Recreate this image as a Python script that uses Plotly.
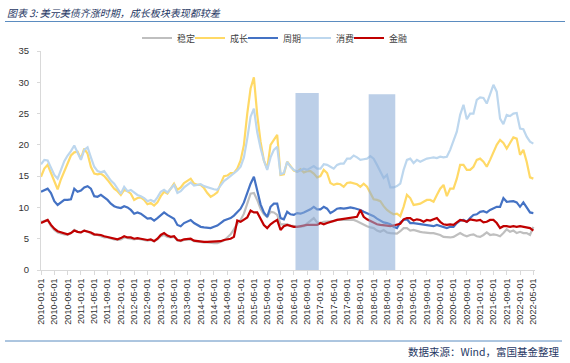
import plotly.graph_objects as go
import pandas as pd

# ---------------- data ----------------
DATES = [d.strftime("%Y-%m-%d") for d in pd.date_range("2010-01-01", "2022-05-01", freq="MS")]
TICK_LABELS = DATES[::4]
Y_TICKS = [0, 5, 10, 15, 20, 25, 30, 35]

STABLE = [7.7,7.9,8.0,7.0,6.4,6.0,5.8,5.7,5.6,5.9, 6.4,6.1,6.0,6.3,6.1,5.8,5.6,5.6,5.4,5.2,
          5.2,5.0,4.9,4.8,4.9,5.2,5.1,5.1,4.9,5.0, 4.9,4.8,4.7,4.8,4.6,4.9,5.4,5.6,5.3,5.2,
          5.3,4.7,4.6,4.8,4.8,4.9,4.6,4.5,
          4.5,4.4,4.4,4.3,4.3,4.3,4.5,4.7,5.2,5.7, 6.5,7.4,8.0,9.0,10.6,12.2,12.3,11.2,9.8,8.9,
          8.5,9.3,9.2,8.8,7.3,7.3,7.3,7.1,7.0,7.0, 6.9,7.0,7.4,7.8,8.3,7.6,7.5,7.7,7.7,7.7,
          7.8,8.0,8.0,8.0,8.0,8.0,8.0,7.8,7.5,7.2, 7.0,6.8,6.7,6.3,6.1,6.4,6.0,5.9,5.9,5.8,
          6.2,6.7,6.7,6.3,6.4,6.2,6.1,6.0,5.9,5.9, 5.9,5.8,5.6,5.3,5.2,5.2,5.3,5.6,5.9,5.6,
          5.4,5.6,5.7,5.4,5.3,5.6,6.0,5.6,5.7,5.6, 5.4,5.9,6.5,6.1,6.3,5.9,6.1,5.9,5.9,5.6,
          6.9]

GROWTH = [14.9,16.2,16.8,15.5,14.0,12.9,14.5,15.8,17.0,18.3, 18.8,18.9,17.8,19.4,18.6,16.5,15.4,15.3,15.4,15.0,
          14.4,13.6,13.0,12.6,12.0,12.8,12.6,12.2,11.2,11.5, 11.6,11.2,10.5,10.7,10.3,10.8,11.8,12.5,12.2,13.0,
          13.8,12.8,13.2,13.9,14.2,14.6,13.8,13.6,
          13.6,13.1,12.3,11.7,12.0,12.4,13.8,15.0,15.1,15.5, 15.5,16.2,17.5,20.0,25.0,29.0,30.8,24.8,20.5,17.5,
          16.2,20.0,20.8,21.6,15.2,15.3,17.3,16.5,15.9,15.7, 16.1,15.6,15.8,15.8,15.4,14.8,15.0,16.0,15.5,13.9,
          13.6,13.8,13.7,13.3,13.9,14.0,13.9,13.7,13.3,13.8, 13.3,12.2,11.3,11.2,11.0,10.2,9.6,9.2,8.9,9.0,
          8.6,10.1,12.0,11.5,10.4,10.5,10.6,10.9,11.2,11.2, 10.9,12.0,13.0,13.6,11.8,13.0,13.0,14.6,16.8,16.8,
          16.0,16.0,16.5,17.6,17.8,17.3,16.5,17.6,18.9,20.0, 20.8,20.3,19.4,20.2,21.2,21.0,18.4,19.2,17.3,14.8,
          14.6]

CYCLE = [12.5,12.8,13.0,12.3,11.0,10.4,10.8,11.2,11.2,11.3, 13.0,12.5,12.7,13.2,13.4,13.0,11.8,11.7,12.0,11.6,
         11.2,10.6,10.2,10.0,9.9,10.2,10.0,9.6,9.0,9.2, 9.0,8.6,8.2,8.3,7.9,8.3,8.8,9.2,8.8,8.5,
         8.2,7.2,7.0,7.5,7.8,8.0,7.5,7.2,
         6.9,6.8,6.7,6.7,6.9,7.1,7.5,7.9,8.1,8.3, 8.7,9.2,9.8,10.8,12.3,13.8,14.9,12.8,10.5,9.2,
         8.5,10.1,10.6,10.6,8.3,8.1,9.3,8.9,8.8,9.1, 9.0,9.2,9.4,9.7,10.1,9.7,9.7,10.1,9.8,9.1,
         9.4,9.8,9.9,9.8,9.9,10.0,9.9,9.8,9.6,9.3, 9.1,8.9,8.6,8.2,7.9,7.6,7.5,7.3,6.9,6.7,
         7.6,8.0,8.1,7.5,7.5,7.4,7.3,7.2,7.2,7.1, 7.0,7.2,7.0,6.9,6.7,6.9,6.9,7.5,7.9,8.0,
         7.7,8.3,8.8,8.9,9.3,9.4,9.2,9.6,9.9,10.1, 10.1,11.5,10.9,10.9,11.0,10.8,10.1,10.8,10.1,9.2,
         9.1]

CONSUMER = [16.9,17.6,17.5,16.3,15.2,14.6,15.9,17.4,18.3,19.0, 19.9,18.6,17.6,19.2,19.6,18.0,16.5,15.8,15.6,15.8,
            15.0,14.3,13.8,12.9,12.2,13.3,12.6,12.8,12.4,12.0, 11.8,11.5,11.0,11.2,10.9,11.6,12.5,12.8,12.4,13.0,
            13.6,12.3,12.6,13.2,13.6,14.0,13.5,13.6,
            13.7,13.4,13.2,13.0,12.9,12.8,13.5,14.2,14.6,15.0, 15.4,15.9,16.5,18.0,21.0,24.5,25.8,22.0,19.5,17.5,
            16.0,18.0,19.2,19.7,15.3,15.5,17.3,16.5,16.0,15.7, 15.9,16.2,16.0,16.3,16.6,16.2,16.2,16.9,16.8,16.5,
            16.2,16.8,17.0,17.0,17.8,17.8,18.3,18.0,17.6,17.7, 17.8,18.2,17.8,16.8,15.7,14.7,15.2,13.2,13.2,13.4,
            13.8,16.0,17.6,17.8,17.1,17.6,17.3,17.6,17.8,17.9, 18.0,17.9,18.1,18.0,18.1,19.2,20.5,22.1,24.8,26.4,
            24.1,25.0,25.0,27.2,27.6,27.5,26.6,28.2,29.6,28.5, 24.2,23.3,24.8,24.6,25.0,25.1,22.6,22.5,21.3,20.5,
            20.2]

FINANCE = [7.5,7.7,8.0,7.2,6.6,6.2,6.0,5.8,5.7,5.9, 6.3,6.1,6.0,6.3,6.2,6.0,5.7,5.7,5.6,5.4,
           5.3,5.1,5.0,4.9,5.1,5.4,5.2,5.2,5.0,5.1, 5.0,4.9,4.8,4.9,4.6,5.0,5.6,5.9,5.5,5.3,
           5.4,4.8,4.7,4.9,4.9,5.0,4.7,4.6,
           4.5,4.5,4.5,4.5,4.5,4.5,4.6,4.8,4.9,5.0, 5.3,7.9,7.7,8.0,8.4,9.5,9.2,9.2,8.2,7.2,
           6.7,7.3,7.7,8.0,6.4,7.0,7.2,7.0,6.9,6.9, 7.0,7.2,7.2,7.2,7.2,7.2,7.5,7.3,7.5,7.7,
           7.8,8.0,8.1,8.2,8.3,8.3,8.4,8.5,9.6,8.5, 8.1,7.8,7.5,7.3,7.2,7.2,7.1,7.0,7.1,7.2,
           7.4,8.1,8.3,8.3,7.9,8.1,8.0,7.7,8.0,7.9, 8.1,8.3,7.7,7.3,7.2,7.3,7.2,7.6,8.0,7.9,
           7.7,8.1,8.0,7.9,8.0,7.6,7.7,8.0,8.0,7.5, 6.7,7.0,7.0,6.9,7.0,6.9,7.0,6.9,6.8,6.7,
           6.3]

SERIES_NAMES = ["稳定", "成长", "周期", "消费", "金融"]
SERIES_VALUES = [STABLE, GROWTH, CYCLE, CONSUMER, FINANCE]
SERIES_COLORS = ["#bfbfbf", "#ffd966", "#4472c4", "#bdd7ee", "#c00000"]

# periods of simultaneous USD / UST rise (shaded), with bar height
SHADE_PERIODS = [("2016-06-01", "2016-12-01", 28.3), ("2018-04-01", "2018-11-01", 28.1)]

TITLE = "图表 3: 美元美债齐涨时期，成长板块表现都较差"
SOURCE = "数据来源：Wind，富国基金整理"

# ---------------- figure ----------------
W, H = 570, 363
ML, MR, MT, MB = 41, 35, 51, 93
PW, PH = W - ML - MR, H - MT - MB
LEGEND_LEFT, LEGEND_STEP = 137, 53   # px: left edge of first legend entry, entry pitch


def px_x(px):
    return (px - ML) / PW


def px_y(py):
    return (H - MB - py) / PH


fig = go.Figure()
legend_layouts = {}
for k, (name, vals, col) in enumerate(zip(SERIES_NAMES, SERIES_VALUES, SERIES_COLORS)):
    lg = "legend" if k == 0 else f"legend{k + 1}"
    fig.add_trace(go.Scatter(x=DATES, y=vals, name=name, mode="lines", legend=lg,
                             line=dict(color=col, width=2.2)))
    legend_layouts[lg] = dict(
        orientation="h", x=px_x(LEGEND_LEFT + k * LEGEND_STEP), xanchor="left",
        y=px_y(38), yanchor="middle",
        font=dict(family="Noto Sans CJK SC", size=9, color="#404040"),
        bgcolor="rgba(0,0,0,0)", itemwidth=30)

shapes = []
for start, end, top in SHADE_PERIODS:
    i0, i1 = DATES.index(start), DATES.index(end)
    shapes.append(dict(type="rect", xref="x", yref="y", x0=i0 - 0.5, x1=i1 + 0.5,
                       y0=-1.1, y1=top, fillcolor="rgba(140,172,215,0.58)",
                       line=dict(width=0), layer="above"))
# title underline and footer rule
shapes.append(dict(type="line", xref="paper", yref="paper", x0=px_x(5), x1=px_x(565),
                   y0=px_y(21.5), y1=px_y(21.5), line=dict(color="#5b8cc0", width=1)))
shapes.append(dict(type="line", xref="paper", yref="paper", x0=px_x(5), x1=px_x(562),
                   y0=px_y(341), y1=px_y(341), line=dict(color="#5b8cc0", width=1)))

fig.update_layout(
    width=W, height=H,
    margin=dict(l=ML, r=MR, t=MT, b=MB, pad=0, autoexpand=False),
    paper_bgcolor="white", plot_bgcolor="white",
    shapes=shapes,
    title=dict(text=TITLE, x=7 / W, xref="container", xanchor="left",
               y=1 - 13 / H, yref="container", yanchor="middle",
               font=dict(family="Noto Sans CJK SC", size=10, color="#1f3864", style="italic")),
    annotations=[dict(text=SOURCE, xref="paper", yref="paper", x=px_x(562), y=px_y(351),
                      xanchor="right", yanchor="middle", showarrow=False,
                      font=dict(family="Noto Sans CJK SC", size=10.5, color="#1f3864"))],
    showlegend=True,
    **legend_layouts,
)

fig.update_xaxes(type="category", range=[0, 148.5], tickmode="array",
                 tickvals=TICK_LABELS, ticktext=TICK_LABELS, tickangle=-90,
                 tickfont=dict(family="Liberation Sans", size=9, color="#333333"),
                 showline=True, linecolor="#d9d9d9", linewidth=1,
                 ticks="outside", ticklen=4, tickcolor="#d9d9d9",
                 showgrid=False, zeroline=False, automargin=False)
fig.update_yaxes(range=[0, 35], tickmode="array", tickvals=Y_TICKS,
                 tickfont=dict(family="Liberation Sans", size=9.5, color="#333333"),
                 showline=True, linecolor="#d9d9d9", linewidth=1,
                 ticks="outside", ticklen=3, tickcolor="#d9d9d9", ticklabelstandoff=6,
                 showgrid=False, zeroline=False, automargin=False)

# the page's default body margin would shift the figure by 8 px; remove it
fig.write_html("out.html", config={"displayModeBar": False},
               post_script="document.body.style.margin='0';")
